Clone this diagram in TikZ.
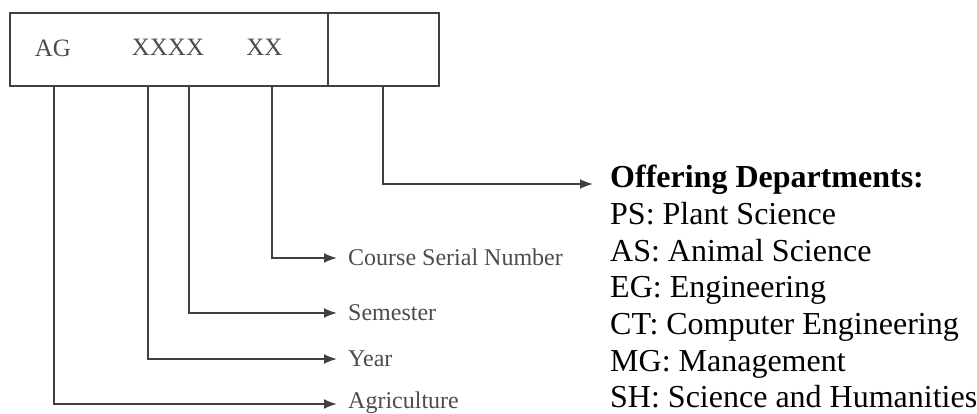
\documentclass[tikz,border=0pt]{standalone}
\usepackage{fontspec}
\setmainfont{Liberation Serif}
\usetikzlibrary{arrows.meta}

\begin{document}
\begin{tikzpicture}[x=1pt,y=-1pt,
  conn/.style={draw=black!75,line width=2pt,-{Latex[length=13pt,width=10pt]}},
  field/.style={draw=black!75,line width=2pt,minimum height=73pt,anchor=north west,inner sep=0pt},
  code/.style={anchor=base,text=black!70,font=\fontsize{25}{30}\selectfont},
  lbl/.style={anchor=west,inner xsep=11pt,inner ysep=0pt,text height=17pt,text depth=3pt,
    text=black!70,font=\fontsize{24}{28}\selectfont},
  dept/.style={anchor=base west,inner sep=0pt,font=\fontsize{32}{36}\selectfont}]
  \useasboundingbox (0,0) rectangle (977,414);

  % the code box
  \node[field,minimum width=318pt] (codebox) at (9,12) {};
  \node[field,minimum width=111pt] (deptbox) at (327,12) {};
  \node[code] (ag) at (53,57) {AG};
  \node[code] (xxxx) at (168,56) {XXXX};
  \node[code] (xx) at (264.5,56) {XX};

  % where the lines leave the box
  \coordinate (pag) at (54,85);
  \coordinate (pyear) at (148,85);
  \coordinate (psem) at (189,85);
  \coordinate (pserial) at (272,85);
  \coordinate (pdept) at (383,85);
  \coordinate (tdept) at (593,184);

  % labels
  \node[lbl] (lserial) at (337,258) {Course Serial Number};
  \node[lbl] (lsem) at (337,313) {Semester};
  \node[lbl] (lyear) at (337,359) {Year};
  \node[lbl,text depth=9pt] (lagri) at (337,404) {Agriculture};

  \draw[conn] (pserial) |- (lserial);
  \draw[conn] (psem) |- (lsem);
  \draw[conn] (pyear) |- (lyear);
  \draw[conn] (pag) |- (lagri);
  \draw[conn] (pdept) |- (tdept);

  % departments
  \node[dept,font=\fontsize{32}{36}\selectfont\bfseries] (dhead) at (610,188) {Offering Departments:};
  \foreach \dname [count=\i] in {PS: Plant Science, AS: Animal Science, EG: Engineering,
      CT: Computer Engineering, MG: Management, SH: Science and Humanities}
    \node[dept] (d\i) at (610,188+36.6*\i) {\dname};

\end{tikzpicture}
\end{document}
